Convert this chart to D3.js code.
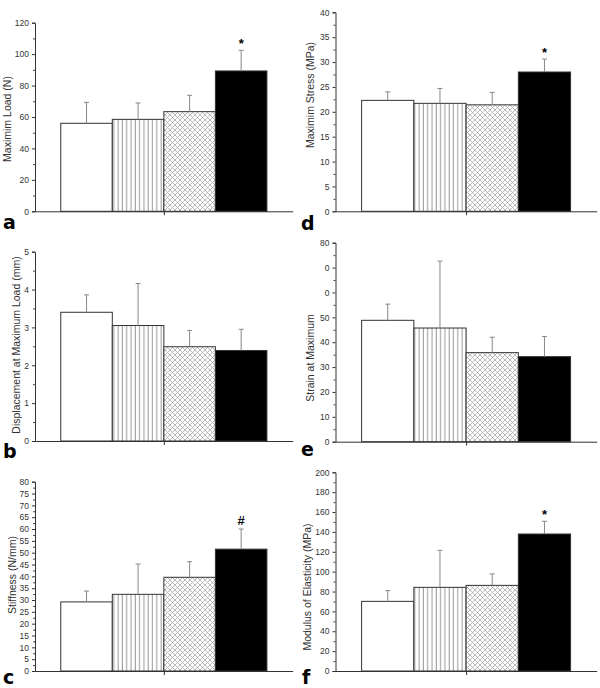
<!DOCTYPE html>
<html>
<head>
<meta charset="utf-8">
<script src="https://cdn.jsdelivr.net/npm/d3@7"></script>
<style>
  body { margin: 0; background: #fff; }
  svg { display: block; font-family: "Liberation Sans", Arial, sans-serif; }
</style>
</head>
<body>
<svg id="chart" width="600" height="688"></svg>
<script>
// four groups, told apart only by fill
var groups = ["g1", "g2", "g3", "g4"];

// panel a - maximum load (N)
var loadMean = [56.0, 58.5, 63.4, 89.3];
var loadSd = [13.3, 10.4, 10.4, 13.1];
// panel b - displacement at maximum load (mm)
var dispMean = [3.40, 3.05, 2.49, 2.39];
var dispSd = [0.46, 1.11, 0.43, 0.56];
// panel c - stiffness (N/mm)
var stiffMean = [29.2, 32.4, 39.6, 51.5];
var stiffSd = [4.6, 12.8, 6.6, 8.5];
// panel d - maximum stress (MPa)
var stressMean = [22.3, 21.7, 21.4, 28.0];
var stressSd = [1.7, 3.0, 2.5, 2.6];
// panel e - strain at maximum
var strainMean = [48.8, 45.7, 35.8, 34.2];
var strainSd = [6.5, 26.9, 6.2, 8.1];
// panel f - modulus of elasticity (MPa)
var modMean = [70.1, 84.2, 86.2, 137.9];
var modSd = [10.8, 37.3, 11.5, 12.8];

// tick labels as printed (panel e has two damaged labels)
var loadTicks = ["0", "20", "40", "60", "80", "100", "120"];
var dispTicks = ["0", "1", "2", "3", "4", "5"];
var stiffTicks = ["0", "5", "10", "15", "20", "25", "30", "35", "40", "45", "50", "55", "60", "65", "70", "75", "80"];
var stressTicks = ["0", "5", "10", "15", "20", "25", "30", "35", "40"];
var strainTicks = ["0", "10", "20", "30", "40", "50", "0", "0", "80"];
var modTicks = ["0", "20", "40", "60", "80", "100", "120", "140", "160", "180", "200"];

var fills = ["#fff", "url(#vlines)", "url(#xhatch)", "#000"];

var panels = [
    {letter: "a", title: "Maximim Load (N)", mean: loadMean, sd: loadSd, ticks: loadTicks, max: 120, step: 20, mark: ["", "", "", "*"],
        x0: 35, x1: 292.7, top: 22.7, bottom: 211.3, lx: 7, ly: 119, px: 3, py: 229},
    {letter: "b", title: "Displacement at Maximum Load (mm)", mean: dispMean, sd: dispSd, ticks: dispTicks, max: 5, step: 1, mark: ["", "", "", ""],
        x0: 35, x1: 292.7, top: 251.7, bottom: 441, lx: 16, ly: 345, px: 3, py: 458},
    {letter: "c", title: "Stiffness (N/mm)", mean: stiffMean, sd: stiffSd, ticks: stiffTicks, max: 80, step: 5, mark: ["", "", "", "#"],
        x0: 35, x1: 292.7, top: 481.7, bottom: 671, lx: 11.5, ly: 575, px: 3, py: 684},
    {letter: "d", title: "Maximim Stress (MPa)", mean: stressMean, sd: stressSd, ticks: stressTicks, max: 40, step: 5, mark: ["", "", "", "*"],
        x0: 335.5, x1: 596.7, top: 12.3, bottom: 211.3, lx: 310, ly: 95, px: 301, py: 230},
    {letter: "e", title: "Strain at Maximum", mean: strainMean, sd: strainSd, ticks: strainTicks, max: 80, step: 10, mark: ["", "", "", ""],
        x0: 335.5, x1: 596.7, top: 242.7, bottom: 441.7, lx: 310, ly: 358, px: 301, py: 456},
    {letter: "f", title: "Modulus of Elasticity (MPa)", mean: modMean, sd: modSd, ticks: modTicks, max: 200, step: 20, mark: ["", "", "", "*"],
        x0: 335.5, x1: 596.7, top: 472.3, bottom: 671, lx: 306.5, ly: 587, px: 302, py: 684}
];

var svg = d3.select("#chart");

// fill patterns
var defs = svg.append("defs");
var vl = defs.append("pattern")
    .attr("id", "vlines")
    .attr("patternUnits", "userSpaceOnUse")
    .attr("width", 4.3).attr("height", 10);
vl.append("rect").attr("width", 4.3).attr("height", 10).attr("fill", "#fff");
vl.append("line")
    .attr("x1", 2).attr("x2", 2).attr("y1", 0).attr("y2", 10)
    .attr("stroke", "#999").attr("stroke-width", 1);

var xh = defs.append("pattern")
    .attr("id", "xhatch")
    .attr("patternUnits", "userSpaceOnUse")
    .attr("width", 5).attr("height", 5);
xh.append("rect").attr("width", 5).attr("height", 5).attr("fill", "#fff");
xh.append("path")
    .attr("d", "M0,0L5,5M5,0L0,5")
    .attr("stroke", "#aaa").attr("stroke-width", 0.8).attr("fill", "none");

panels.forEach(function (p) {
    var g = svg.append("g");
    var pad = (p.x1 - p.x0) * 0.1;

    var x = d3.scaleBand()
        .domain(groups)
        .range([p.x0 + pad, p.x1 - pad])
        .padding(0);

    var y = d3.scaleLinear()
        .domain([0, p.max])
        .range([p.bottom, p.top]);

    var data = groups.map(function (k, i) {
        return {key: k, mean: p.mean[i], sd: p.sd[i], fill: fills[i], mark: p.mark[i]};
    });

    // minor ticks
    var minor = d3.range(p.step / 2, p.max, p.step);
    g.append("g")
        .attr("transform", "translate(" + p.x0 + ",0)")
        .call(d3.axisLeft(y).tickValues(minor).tickSize(2).tickFormat(""))
        .call(function (a) { a.select(".domain").remove(); })
        .selectAll("line").attr("stroke", "#444");

    // y axis
    var majors = d3.range(0, p.max + p.step / 2, p.step);
    var yAx = g.append("g")
        .attr("transform", "translate(" + p.x0 + ",0)")
        .call(d3.axisLeft(y).tickValues(majors).tickSize(3).tickPadding(3)
            .tickFormat(function (d, i) { return p.ticks[i]; }));
    yAx.select(".domain").attr("stroke", "#333");
    yAx.selectAll("line").attr("stroke", "#333");
    yAx.selectAll("text").attr("fill", "#333").style("font-size", "8.5px")
        .style("font-family", "'Liberation Sans', Arial, sans-serif");

    // bars
    g.selectAll(".bar")
        .data(data)
        .join("rect")
        .attr("class", "bar")
        .attr("x", function (d) { return x(d.key); })
        .attr("width", x.bandwidth())
        .attr("y", function (d) { return y(d.mean); })
        .attr("height", function (d) { return y(0) - y(d.mean); })
        .attr("fill", function (d) { return d.fill; })
        .attr("stroke", "#333")
        .attr("stroke-width", 1);

    // error bars (upper half only)
    var eb = g.selectAll(".err")
        .data(data)
        .join("g")
        .attr("class", "err")
        .attr("transform", function (d) { return "translate(" + (x(d.key) + x.bandwidth() / 2) + ",0)"; });
    eb.append("line")
        .attr("y1", function (d) { return y(d.mean); })
        .attr("y2", function (d) { return y(d.mean + d.sd); })
        .attr("stroke", "#888");
    eb.append("line")
        .attr("x1", -2.5).attr("x2", 2.5)
        .attr("y1", function (d) { return y(d.mean + d.sd); })
        .attr("y2", function (d) { return y(d.mean + d.sd); })
        .attr("stroke", "#888");

    // significance marks
    g.selectAll(".mark")
        .data(data.filter(function (d) { return d.mark; }))
        .join("text")
        .attr("class", "mark")
        .attr("x", function (d) { return x(d.key) + x.bandwidth() / 2; })
        .attr("y", function (d) { return y(d.mean + d.sd) - (d.mark === "#" ? 4 : 2); })
        .attr("text-anchor", "middle")
        .attr("fill", "#000")
        .style("font-size", "13px")
        .style("font-weight", "bold")
        .text(function (d) { return d.mark; });

    // x axis: a bare line with one centre tick
    var xl = d3.scaleLinear().domain([0, 1]).range([p.x0, p.x1]);
    var xAx = g.append("g")
        .attr("transform", "translate(0," + p.bottom + ")")
        .call(d3.axisBottom(xl).tickValues([0.5]).tickSize(4).tickSizeOuter(0).tickFormat(""));
    xAx.select(".domain").attr("stroke", "#333");
    xAx.selectAll("line").attr("stroke", "#333");

    // y title
    g.append("text")
        .attr("transform", "translate(" + p.lx + "," + p.ly + ") rotate(-90)")
        .attr("text-anchor", "middle")
        .attr("dominant-baseline", "central")
        .attr("fill", "#333")
        .style("font-size", "10.5px")
        .text(p.title);

    // panel letter
    g.append("text")
        .attr("x", p.px)
        .attr("y", p.py)
        .attr("fill", "#000")
        .style("font-size", "19px")
        .style("font-weight", "bold")
        .style("font-family", "'DejaVu Sans', sans-serif")
        .text(p.letter);
});
</script>
</body>
</html>
